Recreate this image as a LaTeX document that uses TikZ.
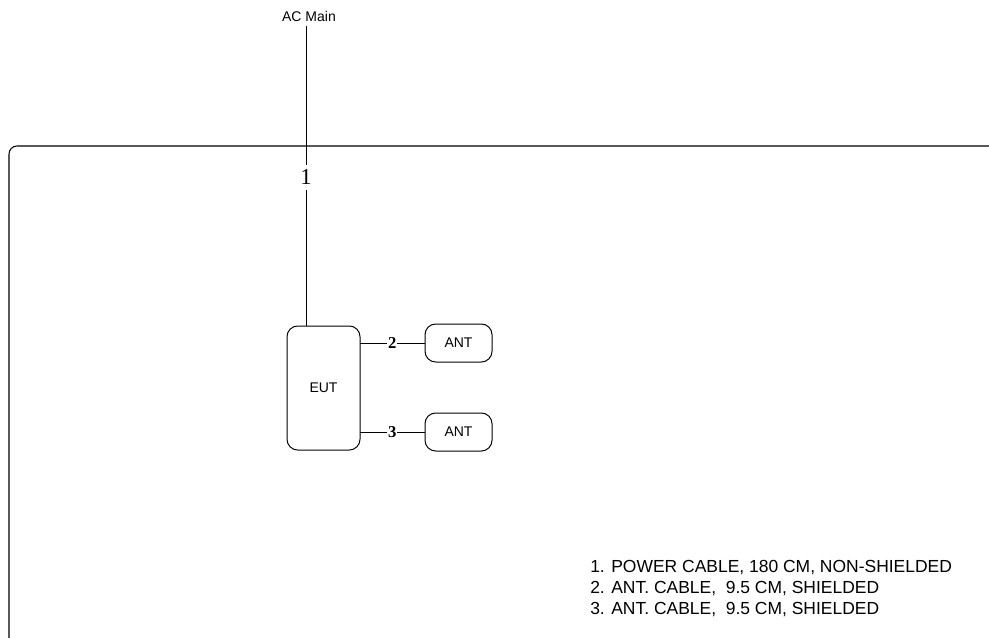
\documentclass[tikz,border=0pt]{standalone}
\usepackage{fontspec}
\setmainfont{Liberation Sans}
\newfontfamily\numfont{Liberation Serif}
\begin{document}
\begin{tikzpicture}[x=0.75pt,y=-0.75pt,
  wire/.style={line width=0.75pt,draw=black},
  box/.style={draw=black,line width=0.75pt,rounded corners=8pt,inner sep=0pt,font=\fontsize{10.5}{12}\selectfont},
  lbl/.style={inner sep=0pt,minimum height=25*0.75pt,fill=white,font=\numfont\fontsize{17}{18}\selectfont},
  blbl/.style={inner sep=0.5pt,fill=white,font=\numfont\bfseries\fontsize{12.5}{14}\selectfont},
  txt/.style={font=\fontsize{10.5}{12}\selectfont,inner sep=0pt}]
\useasboundingbox (0,0) rectangle (989,638);
% enclosure
\draw[line width=0.8pt,rounded corners=6pt] (9,640) -- (9,146) -- (992,146);
% nodes
\node[txt] (acmain) at (309,16) {AC Main};
\coordinate (actop) at (306,26);
\node[box,minimum width=73*0.75pt,minimum height=124*0.75pt] (eut) at (323.5,388) {EUT};
\node[box,minimum width=67*0.75pt,minimum height=38*0.75pt] (ant1) at (458.5,343) {ANT};
\node[box,minimum width=67*0.75pt,minimum height=38*0.75pt] (ant2) at (458.5,432) {ANT};
\node[lbl] (l1) at (306,177.5) {1};
% connectors
\draw[wire] (actop) -- (l1.north);
\draw[wire] (l1.south) -- (eut.north -| actop);
\coordinate (e2) at (360,343);
\coordinate (e3) at (360,432);
\draw[wire] (e2) -- node[blbl] {2} (ant1.west);
\draw[wire] (e3) -- node[blbl] {3} (ant2.west);
% legend
\node[anchor=north west,inner sep=0pt,align=left,font=\fontsize{13.1}{15.8}\selectfont] (legend) at (590,560)
{1. POWER CABLE, 180 CM, NON-SHIELDED\\
2. ANT. CABLE,\ \ 9.5 CM, SHIELDED\\
3. ANT. CABLE,\ \ 9.5 CM, SHIELDED};
\end{tikzpicture}
\end{document}
